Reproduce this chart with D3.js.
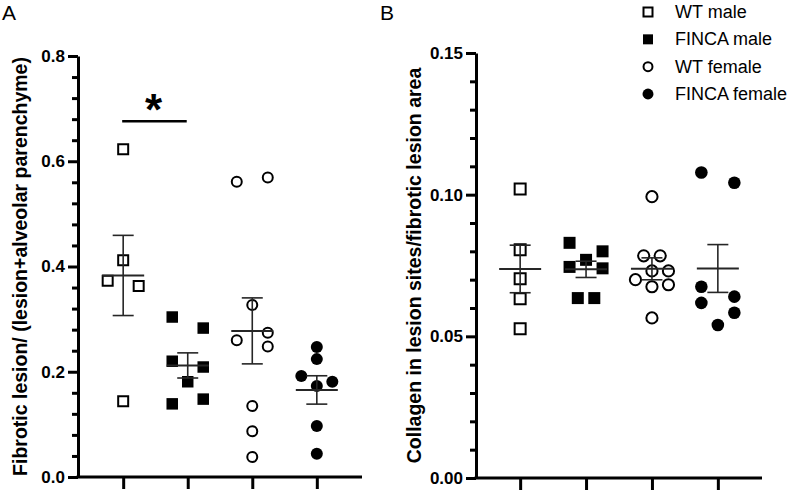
<!DOCTYPE html>
<html>
<head>
<meta charset="utf-8">
<script src="https://cdn.jsdelivr.net/npm/d3@7"></script>
<style>
  html, body { margin: 0; padding: 0; background: #fff; }
  svg { display: block; font-family: "Liberation Sans", Arial, sans-serif; }
</style>
</head>
<body>
<svg id="chart" width="790" height="492"></svg>
<script>
// ---------------- DATA ----------------
const categories = ["WT male", "FINCA male", "WT female", "FINCA female"];

// Panel A: Fibrotic lesion / (lesion + alveolar parenchyme)
const fibroticWTMale      = [0.623, 0.412, 0.373, 0.363, 0.144];
const fibroticFINCAMale   = [0.304, 0.283, 0.220, 0.209, 0.181, 0.139, 0.148];
const fibroticWTFemale    = [0.561, 0.569, 0.327, 0.260, 0.274, 0.248, 0.135, 0.087, 0.038];
const fibroticFINCAFemale = [0.247, 0.224, 0.192, 0.173, 0.181, 0.097, 0.044];
// column (dodge) slot of each point
const fibroticWTMaleSlot      = [0, 0, -1, 1, 0];
const fibroticFINCAMaleSlot   = [-1, 1, -1, 1, 0, -1, 1];
const fibroticWTFemaleSlot    = [-1, 1, 0, -1, 1, 1, 0, 0, 0];
const fibroticFINCAFemaleSlot = [0, 0, -1, 0, 1, 0, 0];

// Panel B: Collagen in lesion sites / fibrotic lesion area
const collagenWTMale      = [0.1020, 0.0806, 0.0703, 0.0633, 0.0527];
const collagenFINCAMale   = [0.0830, 0.0800, 0.0770, 0.0745, 0.0740, 0.0635, 0.0635];
const collagenWTFemale    = [0.0993, 0.0784, 0.0784, 0.0731, 0.0731, 0.0700, 0.0675, 0.0682, 0.0565];
const collagenFINCAFemale = [0.1078, 0.1042, 0.0675, 0.0618, 0.0640, 0.0583, 0.0540];
const collagenWTMaleSlot      = [0, 0, 0, 0, 0];
const collagenFINCAMaleSlot   = [-1, 1, 0, -1, 1, -0.5, 0.5];
const collagenWTFemaleSlot    = [0, -0.5, 0.5, 0, 1, -1, 0, 1, 0];
const collagenFINCAFemaleSlot = [-1, 1, -1, -1, 1, 1, 0];

// axis ticks
const fibroticMajorTicks = [0, 0.2, 0.4, 0.6, 0.8];
const fibroticTickLabels = ["0.0", "0.2", "0.4", "0.6", "0.8"];
const fibroticMinorTicks = [0.04, 0.08, 0.12, 0.16, 0.24, 0.28, 0.32, 0.36, 0.44, 0.48, 0.52, 0.56, 0.64, 0.68, 0.72, 0.76];
const collagenMajorTicks = [0, 0.05, 0.10, 0.15];
const collagenTickLabels = ["0.00", "0.05", "0.10", "0.15"];
const collagenMinorTicks = [0.01, 0.02, 0.03, 0.04, 0.06, 0.07, 0.08, 0.09, 0.11, 0.12, 0.13, 0.14];

const fibroticLabel = "Fibrotic lesion/ (lesion+alveolar parenchyme)";
const collagenLabel = "Collagen in lesion sites/fibrotic lesion area";
const significance = { from: "WT male", to: "FINCA male", y: 0.676, label: "*" };

// ---------------- DRAW ----------------
const svg = d3.select("#chart");
const shapes = {
  "WT male":      { type: d3.symbolSquare, filled: false },
  "FINCA male":   { type: d3.symbolSquare, filled: true },
  "WT female":    { type: d3.symbolCircle, filled: false },
  "FINCA female": { type: d3.symbolCircle, filled: true }
};

function stats(v) {
  const m = d3.mean(v);
  const sd = d3.deviation(v);
  return { mean: m, sem: sd / Math.sqrt(v.length) };
}

function panel(opts) {
  const g = svg.append("g");
  const x = d3.scalePoint().domain(categories).range(opts.xRange).padding(opts.pad);
  const y = d3.scaleLinear().domain(opts.yDomain).range(opts.yRange);
  const axisX = opts.xRange[0];

  // minor ticks
  g.append("g").attr("transform", `translate(${axisX},0)`)
    .call(d3.axisLeft(y).tickValues(opts.minor).tickSize(6).tickFormat(""))
    .call(a => a.select(".domain").remove())
    .call(a => a.selectAll("line").attr("stroke", "#000").attr("stroke-width", 3));

  // major ticks + domain
  g.append("g").attr("transform", `translate(${axisX},0)`)
    .call(d3.axisLeft(y).tickValues(opts.major).tickSize(10).tickSizeOuter(0)
      .tickPadding(3).tickFormat((d, i) => opts.labels[i]))
    .call(a => a.select(".domain").attr("stroke", "#000").attr("stroke-width", 3))
    .call(a => a.selectAll("line").attr("stroke", "#000").attr("stroke-width", 3))
    .call(a => a.selectAll("text").attr("fill", "#000")
      .style("font-size", "17px").style("font-weight", "bold")
      .style("font-family", "'Liberation Sans', Arial, sans-serif"));

  // x axis
  g.append("g").attr("transform", `translate(0,${opts.yRange[0]})`)
    .call(d3.axisBottom(x).tickSize(12).tickSizeOuter(0).tickFormat(""))
    .call(a => a.select(".domain").attr("stroke", "#000").attr("stroke-width", 3)
      .attr("d", `M${opts.xRange[0] - 1.5},0H${opts.xRange[1]}`))
    .call(a => a.selectAll("line").attr("stroke", "#000").attr("stroke-width", 3));

  // y label
  g.append("text")
    .attr("transform", `translate(${opts.labelX},${(opts.yRange[0] + opts.yRange[1]) / 2 + opts.labelShift}) rotate(-90)`)
    .attr("text-anchor", "middle")
    .attr("dominant-baseline", "central")
    .style("font-size", "19.5px").style("font-weight", "bold")
    .text(opts.yLabel);

  // panel letter
  g.append("text").attr("x", opts.letterX).attr("y", 20)
    .style("font-size", "21px").text(opts.letter);

  // points
  opts.groups.forEach(grp => {
    const sh = shapes[grp.cat];
    const cx = x(grp.cat);
    const size = sh.type === d3.symbolSquare
      ? (sh.filled ? opts.sqFill * opts.sqFill : opts.sqOpen * opts.sqOpen)
      : Math.PI * Math.pow(sh.filled ? opts.rFill : opts.rOpen, 2);
    g.append("g").selectAll("path").data(grp.values).join("path")
      .attr("transform", (d, i) => `translate(${cx + grp.slots[i] * opts.step},${y(d)})`)
      .attr("d", d3.symbol().type(sh.type).size(size))
      .attr("fill", sh.filled ? "#000" : "none")
      .attr("stroke", sh.filled ? "none" : "#000")
      .attr("stroke-width", 2);

    const s = stats(grp.values);
    const eb = g.append("g").attr("stroke", "#262626").attr("fill", "none");
    eb.append("line").attr("x1", cx).attr("x2", cx)
      .attr("y1", y(s.mean + s.sem)).attr("y2", y(s.mean - s.sem)).attr("stroke-width", 1.6);
    [s.mean + s.sem, s.mean - s.sem].forEach(v => {
      eb.append("line").attr("x1", cx - 10.5).attr("x2", cx + 10.5)
        .attr("y1", y(v)).attr("y2", y(v)).attr("stroke-width", 1.6);
    });
    eb.append("line").attr("x1", cx - 21).attr("x2", cx + 21)
      .attr("y1", y(s.mean)).attr("y2", y(s.mean)).attr("stroke-width", 2);
  });

  return { x, y, g };
}

const A = panel({
  xRange: [78, 362], pad: 0.7, yDomain: [0, 0.8], yRange: [477, 56],
  major: fibroticMajorTicks, labels: fibroticTickLabels, minor: fibroticMinorTicks,
  yLabel: fibroticLabel, labelX: 20, labelShift: 0, letter: "A", letterX: 2,
  step: 15.5, sqOpen: 10, sqFill: 11.5, rOpen: 5, rFill: 6,
  groups: [
    { cat: "WT male", values: fibroticWTMale, slots: fibroticWTMaleSlot },
    { cat: "FINCA male", values: fibroticFINCAMale, slots: fibroticFINCAMaleSlot },
    { cat: "WT female", values: fibroticWTFemale, slots: fibroticWTFemaleSlot },
    { cat: "FINCA female", values: fibroticFINCAFemale, slots: fibroticFINCAFemaleSlot }
  ]
});

const B = panel({
  xRange: [476, 762], pad: 0.67, yDomain: [0, 0.15], yRange: [478, 53],
  major: collagenMajorTicks, labels: collagenTickLabels, minor: collagenMinorTicks,
  yLabel: collagenLabel, labelX: 414, labelShift: 0, letter: "B", letterX: 380,
  step: 16.5, sqOpen: 11, sqFill: 12, rOpen: 5.6, rFill: 6.3,
  groups: [
    { cat: "WT male", values: collagenWTMale, slots: collagenWTMaleSlot },
    { cat: "FINCA male", values: collagenFINCAMale, slots: collagenFINCAMaleSlot },
    { cat: "WT female", values: collagenWTFemale, slots: collagenWTFemaleSlot },
    { cat: "FINCA female", values: collagenFINCAFemale, slots: collagenFINCAFemaleSlot }
  ]
});

// significance bar (panel A)
A.g.append("line")
  .attr("x1", A.x(significance.from) - 1).attr("x2", A.x(significance.to) - 1)
  .attr("y1", A.y(significance.y)).attr("y2", A.y(significance.y))
  .attr("stroke", "#000").attr("stroke-width", 2.5);
A.g.append("text")
  .attr("x", (A.x(significance.from) + A.x(significance.to)) / 2 - 2)
  .attr("y", A.y(significance.y) + 4)
  .attr("text-anchor", "middle")
  .style("font-size", "44px").style("font-weight", "bold")
  .text(significance.label);

// legend
const legendY = d3.scalePoint().domain(categories).range([12, 94]);
const lg = svg.append("g");
categories.forEach(c => {
  const sh = shapes[c];
  const size = sh.type === d3.symbolSquare ? (sh.filled ? 100 : 81) : Math.PI * (sh.filled ? 30 : 20);
  lg.append("path")
    .attr("transform", `translate(648,${legendY(c)})`)
    .attr("d", d3.symbol().type(sh.type).size(size))
    .attr("fill", sh.filled ? "#000" : "none")
    .attr("stroke", sh.filled ? "none" : "#000")
    .attr("stroke-width", 2);
  lg.append("text").attr("x", 675).attr("y", legendY(c))
    .attr("dominant-baseline", "central")
    .style("font-size", "18px")
    .text(c);
});
</script>
</body>
</html>
